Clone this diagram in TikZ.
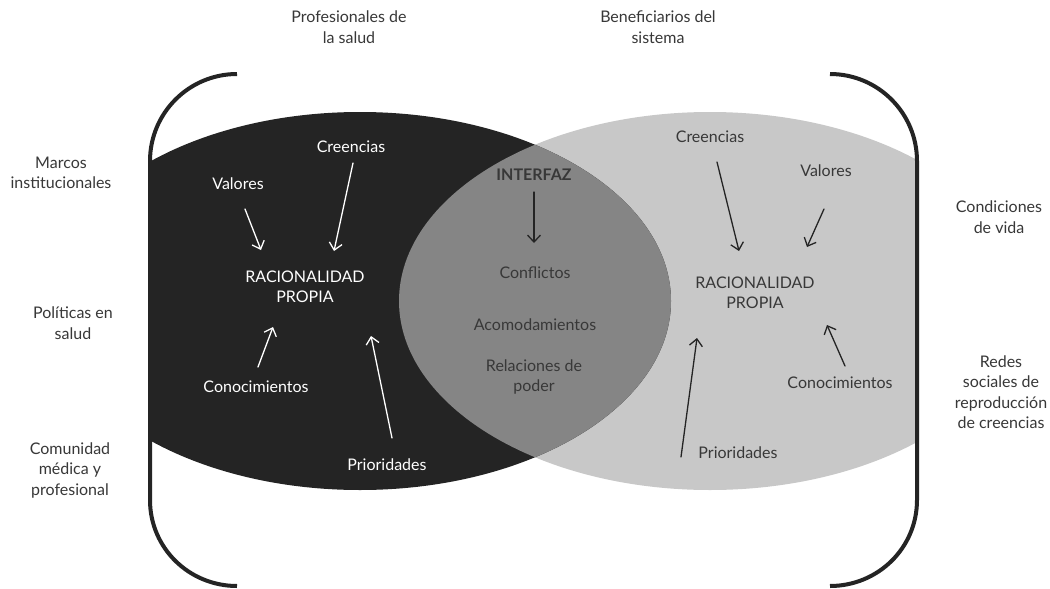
\documentclass[tikz,border=0pt]{standalone}
\usepackage{fontspec}
\setmainfont{Lato}
\usetikzlibrary{arrows.meta}
\definecolor{darkfill}{HTML}{242424}
\definecolor{lightfill}{HTML}{C8C8C8}
\definecolor{midfill}{HTML}{858585}
\definecolor{txt}{HTML}{383838}
\begin{document}
\begin{tikzpicture}[x=1pt,y=-1pt,
  lbl/.style={font=\fontsize{16}{20.5}\selectfont, align=center, inner sep=0pt, text=txt},
  wlbl/.style={lbl, text=white},
  arr/.style={-{Straight Barb[length=7pt,width=13pt]}, line width=1.3pt, line cap=round},
  warr/.style={arr, draw=white},
  darr/.style={arr, draw=darkfill},
  brk/.style={line width=4pt, draw=darkfill}]
\fill[white] (0,0) rectangle (1050,589);
\useasboundingbox (0,0) rectangle (1050,589);
% ellipses
\begin{scope}
  \clip (150,0) rectangle (917,589);
  \fill[lightfill] (710,301) ellipse [x radius=311pt, y radius=189pt];
  \fill[darkfill] (360,301) ellipse [x radius=311pt, y radius=189pt];
  \clip (360,301) ellipse [x radius=311pt, y radius=189pt];
  \fill[midfill] (710,301) ellipse [x radius=311pt, y radius=189pt];
\end{scope}
% brackets
\draw[brk] (237,74) .. controls (189,74) and (150,113) .. (150,161) -- (150,500) .. controls (150,548) and (189,586) .. (237,586);
\draw[brk] (830,74) .. controls (878,74) and (917,113) .. (917,161) -- (917,500) .. controls (917,548) and (878,586) .. (830,586);
% outer labels
\node[lbl] (prof) at (349,27) {Profesionales de\\la salud};
\node[lbl] (benef) at (658,27) {Beneficiarios del\\sistema};
\node[lbl] (marcos) at (61,173) {Marcos\\institucionales};
\node[lbl] (politicas) at (73,323) {Políticas en\\salud};
\node[lbl] (comunidad) at (70,470) {Comunidad\\médica y\\profesional};
\node[lbl] (condiciones) at (999,217) {Condiciones\\de vida};
\node[lbl] (redes) at (1001,392) {Redes\\sociales de\\reproducción\\de creencias};
% left ellipse
\node[wlbl] (lcre) at (351,147) {Creencias};
\node[wlbl] (lval) at (238,184) {Valores};
\node[wlbl] (lrac) at (305,287) {RACIONALIDAD\\PROPIA};
\node[wlbl] (lcon) at (256,387) {Conocimientos};
\node[wlbl] (lpri) at (387,465) {Prioridades};
\coordinate (lv1) at (245,209); \coordinate (lv2) at (261,250);
\coordinate (lc1) at (353,163); \coordinate (lc2) at (334,251);
\coordinate (lk1) at (258,367); \coordinate (lk2) at (273,327);
\coordinate (lp1) at (392,438); \coordinate (lp2) at (371,336);
\draw[warr] (lv1) -- (lv2);
\draw[warr] (lc1) -- (lc2);
\draw[warr] (lk1) -- (lk2);
\draw[warr] (lp1) -- (lp2);
% interface
\node[lbl, font=\fontsize{16}{20.5}\selectfont\bfseries] (interfaz) at (534,175) {INTERFAZ};
\node[lbl] (conflictos) at (535,273) {Conflictos};
\node[lbl] (acomod) at (535,325) {Acomodamientos};
\node[lbl] (relaciones) at (534,377) {Relaciones de\\poder};
\coordinate (i1) at (534,192); \coordinate (i2) at (534,243);
\draw[darr] (i1) -- (i2);
% right ellipse
\node[lbl] (rcre) at (710,137) {Creencias};
\node[lbl] (rval) at (826,171) {Valores};
\node[lbl] (rrac) at (755,293) {RACIONALIDAD\\PROPIA};
\node[lbl] (rcon) at (840,383) {Conocimientos};
\node[lbl] (rpri) at (738,453) {Prioridades};
\coordinate (rc1) at (717,162); \coordinate (rc2) at (739,251);
\coordinate (rv1) at (824,209); \coordinate (rv2) at (807,247);
\coordinate (rp1) at (681,457); \coordinate (rp2) at (697,338);
\coordinate (rk1) at (845,366); \coordinate (rk2) at (827,325);
\draw[darr] (rc1) -- (rc2);
\draw[darr] (rv1) -- (rv2);
\draw[darr] (rp1) -- (rp2);
\draw[darr] (rk1) -- (rk2);
\end{tikzpicture}
\end{document}
